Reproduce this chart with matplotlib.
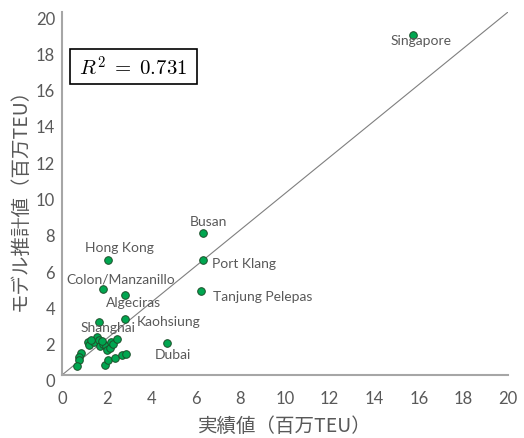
import matplotlib
matplotlib.use("Agg")
import matplotlib.pyplot as plt
from matplotlib.patches import Rectangle
from matplotlib.transforms import ScaledTranslation

# 港湾別コンテナ取扱量：実績値とモデル推計値（百万TEU）
ports = ["Singapore", "Busan", "Port Klang", "Hong Kong", "Colon/Manzanillo",
         "Algeciras", "Tanjung Pelepas", "Kaohsiung", "Shanghai", "Dubai"]
port_actual = [15.75, 6.32, 6.32, 2.06, 1.84, 2.82, 6.23, 2.82, 1.66, 4.71]
port_model = [18.73, 7.82, 6.34, 6.34, 4.74, 4.41, 4.63, 3.09, 2.92, 1.76]

# ラベルなしの港
other_actual = [1.15, 1.21, 1.42, 1.58, 1.64, 1.70, 1.85, 1.97, 2.03, 2.15,
                2.21, 2.27, 2.48, 0.85, 0.78, 0.75, 0.67, 1.94, 2.08, 2.36,
                2.68, 2.86, 1.30, 1.78]
other_model = [1.80, 1.67, 1.84, 2.08, 1.95, 1.62, 1.69, 1.62, 1.40, 1.47,
               1.84, 1.69, 1.96, 1.21, 0.97, 0.84, 0.48, 0.55, 0.83, 0.94,
               1.08, 1.16, 1.95, 1.90]

r2 = 0.731
ticks = list(range(0, 21, 2))

# ラベルの位置（点からのずれ, px）
label_offsets = {
    "Singapore": (-23, -5), "Busan": (-13, 12), "Port Klang": (9, -3),
    "Hong Kong": (-23, 13), "Colon/Manzanillo": (-37, 10),
    "Algeciras": (-19, -7), "Tanjung Pelepas": (12, -5),
    "Kaohsiung": (12, -2), "Shanghai": (-18, -5), "Dubai": (-12, -11),
}

GRAY = "#595959"
LATIN = ["Lato", "DejaVu Sans"]
JP = ["Noto Sans CJK JP", "DejaVu Sans"]
plt.rcParams["mathtext.fontset"] = "cm"

fig = plt.figure(figsize=(5.24, 4.39), dpi=100)
ax = fig.add_axes([62 / 524, 63 / 439, 446 / 524, 363 / 439])

ax.plot([0, 20], [0, 20], color="#7f7f7f", lw=0.8, zorder=1)

all_x = port_actual + other_actual
all_y = port_model + other_model
ax.scatter(all_x, all_y, s=30, color="#00A650", edgecolor="#1d4f2a",
           linewidth=0.7, zorder=3)

for name, x, y in zip(ports, port_actual, port_model):
    dx, dy = label_offsets[name]
    ax.annotate(name, (x, y), xytext=(dx, dy), textcoords="offset pixels",
                ha="left", va="center", fontsize=10, color=GRAY,
                family=LATIN, zorder=4)

# 決定係数の枠
ax.add_patch(Rectangle((0.018, 0.802), 0.285, 0.0964, transform=ax.transAxes,
                       fc="white", ec="black", lw=1.2, zorder=5))
ax.text(0.160, 0.850, rf"$R^2\;=\;{r2}$", transform=ax.transAxes,
        ha="center", va="center", fontsize=15, zorder=6)

ax.set_xlim(0, 20)
ax.set_ylim(0, 20)
ax.set_xticks(ticks)
ax.set_yticks(ticks)
ax.tick_params(length=0, labelsize=12, labelcolor=GRAY)
ax.tick_params(axis="x", pad=11)
ax.tick_params(axis="y", pad=5)
for lab in ax.get_xticklabels() + ax.get_yticklabels():
    lab.set_family(LATIN)
for lab in ax.get_yticklabels():
    lab.set_transform(lab.get_transform()
                      + ScaledTranslation(0, -5 / 100, fig.dpi_scale_trans))

for side in ["top", "right"]:
    ax.spines[side].set_visible(False)
for side in ["left", "bottom"]:
    ax.spines[side].set_color("#a6a6a6")
    ax.spines[side].set_linewidth(1.5)

ax.set_xlabel("実績値（百万TEU）", fontsize=14, color=GRAY, family=JP,
              labelpad=6)
ax.set_ylabel("モデル推計値（百万TEU）", fontsize=14, color=GRAY, family=JP,
              labelpad=4)

fig.savefig("out.png", dpi=100)
